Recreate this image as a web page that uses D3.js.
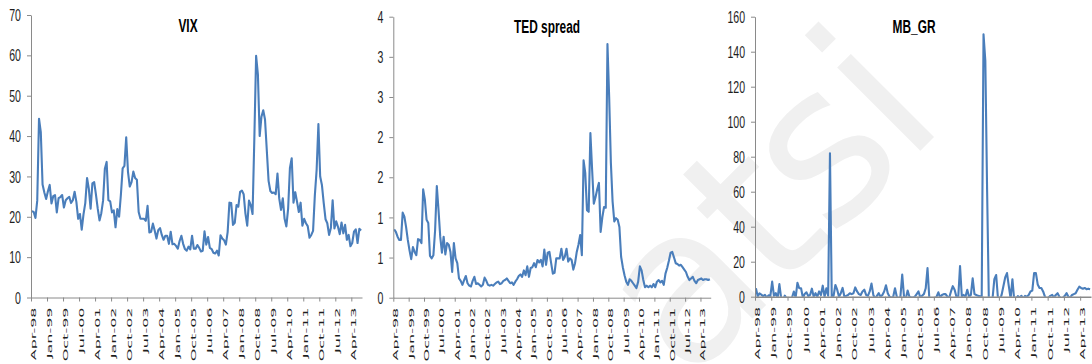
<!DOCTYPE html>
<html>
<head>
<meta charset="utf-8">
<script src="https://cdn.jsdelivr.net/npm/d3@7"></script>
<style>
  html, body { margin: 0; padding: 0; background: #fff; }
  svg { display: block; }
</style>
</head>
<body>
<svg id="chart" width="1092" height="364"></svg>
<script>
// Monthly observations, Apr-98 .. Sep-13 (186 months)
const xTickLabels = ["Apr-98","Jan-99","Oct-99","Jul-00","Apr-01","Jan-02","Oct-02","Jul-03",
  "Apr-04","Jan-05","Oct-05","Jul-06","Apr-07","Jan-08","Oct-08","Jul-09","Apr-10","Jan-11",
  "Oct-11","Jul-12","Apr-13"];

const vix = [
  21.4, 21.2, 19.7, 24.0, 44.3, 41.0, 28.0, 26.0, 24.4,
  26.3, 27.9, 23.3, 25.1, 25.4, 21.1, 24.6, 24.9, 25.4,
  22.3, 24.1, 24.6, 24.95, 23.4, 24.1, 26.2, 23.7, 19.5,
  20.7, 16.8, 20.6, 23.4, 29.6, 26.9, 22.0, 28.3, 28.6,
  25.5, 22.0, 19.1, 20.9, 24.0, 31.9, 33.6, 24.1, 23.8,
  21.1, 21.6, 17.4, 21.9, 20.0, 25.4, 32.0, 32.6, 39.7,
  31.1, 27.5, 28.6, 31.2, 29.6, 29.2, 21.2, 19.5, 19.5,
  19.5, 19.0, 22.7, 16.1, 16.3, 18.3, 16.6, 14.6, 16.7,
  17.2, 15.5, 14.3, 15.3, 15.3, 13.3, 16.3, 13.2, 13.3,
  12.8, 12.1, 14.0, 15.3, 13.3, 12.0, 11.6, 12.6, 11.9,
  15.3, 12.1, 12.1, 13.0, 12.3, 11.4, 11.6, 16.4, 13.1,
  15.0, 12.3, 12.0, 11.1, 10.9, 11.6, 10.4, 15.4, 14.6,
  14.2, 13.1, 16.2, 23.5, 23.4, 18.0, 18.5, 22.9, 22.5,
  26.2, 26.5, 25.6, 20.8, 17.8, 24.0, 22.9, 20.7, 39.4,
  59.9, 55.3, 40.0, 44.8, 46.4, 44.1, 36.5, 28.9, 26.4,
  25.9, 26.0, 25.6, 30.7, 24.5, 21.7, 24.6, 19.5, 17.6,
  22.1, 32.1, 34.5, 23.5, 26.1, 23.7, 21.2, 23.5, 17.8,
  19.5, 18.4, 17.7, 14.8, 15.5, 16.5, 25.3, 31.6, 43.0,
  30.0, 27.8, 23.4, 19.4, 18.4, 15.5, 17.2, 24.1, 17.1,
  18.9, 17.5, 15.7, 18.6, 15.9, 18.0, 14.3, 15.5, 12.7,
  13.5, 16.3, 16.9, 13.5, 17.0, 16.6
];

const ted = [
  0.85, 0.82, 0.76, 0.72, 0.72, 1.06, 1.01, 0.88, 0.72, 0.59,
  0.48, 0.63, 0.57, 0.53, 0.73, 0.72, 0.68, 1.35, 1.22, 0.97,
  0.93, 0.52, 0.49, 0.53, 0.84, 1.39, 1.09, 0.76, 0.56, 0.76,
  0.54, 0.68, 0.66, 0.57, 0.32, 0.68, 0.49, 0.43, 0.24, 0.21,
  0.16, 0.22, 0.27, 0.18, 0.15, 0.14, 0.21, 0.26, 0.17, 0.18,
  0.16, 0.14, 0.16, 0.25, 0.21, 0.16, 0.15, 0.16, 0.15, 0.17,
  0.19, 0.20, 0.17, 0.18, 0.21, 0.22, 0.24, 0.21, 0.18, 0.19,
  0.16, 0.20, 0.23, 0.27, 0.29, 0.26, 0.34, 0.28, 0.39, 0.26,
  0.37, 0.38, 0.43, 0.38, 0.47, 0.44, 0.47, 0.39, 0.60, 0.41,
  0.56, 0.57, 0.43, 0.30, 0.31, 0.49, 0.49, 0.49, 0.61, 0.47,
  0.51, 0.61, 0.45, 0.49, 0.47, 0.35, 0.43, 0.57, 0.66, 0.78,
  0.53, 1.71, 1.55, 1.09, 1.07, 2.05, 1.60, 1.17, 1.25, 1.35,
  1.43, 0.82, 1.00, 1.13, 1.12, 3.16, 2.50, 1.68, 1.20, 0.95,
  0.99, 0.97, 0.88, 0.51, 0.38, 0.28, 0.20, 0.16, 0.23, 0.21,
  0.18, 0.15, 0.12, 0.20, 0.39, 0.34, 0.22, 0.13, 0.15, 0.13,
  0.15, 0.13, 0.17, 0.13, 0.20, 0.22, 0.19, 0.21, 0.16, 0.30,
  0.37, 0.46, 0.56, 0.57, 0.50, 0.43, 0.42, 0.40, 0.41, 0.38,
  0.35, 0.32, 0.26, 0.22, 0.24, 0.26, 0.21, 0.18, 0.22, 0.23,
  0.24, 0.22, 0.23, 0.23, 0.22, 0.23
];

const mbGr = [
  4.8, 0.2, 1.9, 1.2, 0.3, 1.0, -0.5, 0.8, 0.3, 8.6,
  0.5, 2.0, -1, 7.2, -1, -2, 0.6, -1, -2, -1.5,
  -0.5, 3, -0.5, 8, 4.8, 4.8, -0.5, 1.5, 2.5, 0.3,
  1, 4.6, 0, 2, 0, 3, 1, 6.3, 0, 4.8,
  0.5, 82, -1, 0.5, 6.7, 4, 0, 2, 5, 0,
  0.5, 1, 2, 1.5, 2, 5.3, 3, 1.5, 1, 3,
  4, 1, 0.5, 3, 7.5, 1, -1, 0.5, 2, 0,
  1, 3, 6.5, 2, 0, -0.5, 0, 4.8, 0, -1,
  0, 12.6, 0, -1, 3.5, 0, -0.5, -0.5, 0, 1.5,
  3, -0.5, 0.5, 1.5, 4.8, 16.4, -1, -2, -1, -1,
  0, 2.5, -0.5, 1, 1.5, 1.5, 0, -0.5, 3, 6,
  4, 0, -0.5, 17.5, 0, 1, 0, 4, 0, 1,
  10.5, 1.5, 1, 0.5, 0.3, 0, 150, 135, 60, -5,
  -3, -1, 10, 12.4, -1, -2, 1, 6, 11, 13.5,
  6, -1, 10, -2, -1, 0.3, -0.5, 0.5, -1, 0.5,
  0, 1, 3, 3.5, 13.5, 13.5, 7, 5, 5, 3,
  0, -1, -0.5, 0.5, 1, -0.5, 1, 2, 0, -1,
  -0.5, 0.5, 2, 0, -0.5, 1, 1.5, 2, 4, 5.7,
  5, 4.6, 5, 4.3, 4.6, 4.3
];

const vixTicks = [0, 10, 20, 30, 40, 50, 60, 70];
const vixTickLabels = ["0", "10", "20", "30", "40", "50", "60", "70"];
const tedTicks = [0, 0.5, 1, 1.5, 2, 2.5, 3, 3.5];
const tedTickLabels = ["0", "1", "1", "2", "2", "3", "3", "4"];
const mbTicks = [0, 20, 40, 60, 80, 100, 120, 140, 160];
const mbTickLabels = ["0", "20", "40", "60", "80", "100", "120", "140", "160"];

const AXIS = "#8a8a8a";
const LINE = "#4a7ebb";
const TEXT = "#1e1e1e";

const svg = d3.select("#chart");

// faint background watermark
svg.append("text")
  .attr("transform", "translate(944,127) rotate(-45)")
  .attr("text-anchor", "end")
  .attr("font-family", "DejaVu Sans")
  .attr("font-size", 215)
  .attr("letter-spacing", -6)
  .attr("fill", "#f0f0f0")
  .text("atsi");

const panels = [
  { id: "vix", title: "VIX", values: vix, ticks: vixTicks, labels: vixTickLabels,
    box: { left: 31, right: 362, top: 15, bottom: 297.5 }, titleX: 188, titleY: 31.7 },
  { id: "ted", title: "TED spread", values: ted, ticks: tedTicks, labels: tedTickLabels,
    box: { left: 393.3, right: 710.7, top: 16.7, bottom: 297.7 }, titleX: 547, titleY: 33.2 },
  { id: "mb", title: "MB_GR", values: mbGr, ticks: mbTicks, labels: mbTickLabels,
    box: { left: 755, right: 1091, top: 16.7, bottom: 296.7 }, titleX: 914, titleY: 33.2 }
];

panels.forEach(p => {
  const n = p.values.length;
  const b = p.box;
  const x = d3.scaleLinear().domain([0, n]).range([b.left, b.right]);
  const y = d3.scaleLinear().domain([0, p.ticks[p.ticks.length - 1]]).range([b.bottom, b.top]);
  const g = svg.append("g");

  // title
  g.append("text")
    .attr("transform", `translate(${p.titleX},${p.titleY}) scale(0.66,1)`)
    .attr("text-anchor", "middle")
    .attr("font-family", "Liberation Sans, Arial, sans-serif")
    .attr("font-weight", "bold")
    .attr("font-size", 18)
    .attr("fill", "#000")
    .text(p.title);

  // series line, clipped to the plot rectangle
  const clipId = "clip-" + p.id;
  svg.append("defs").append("clipPath").attr("id", clipId)
    .append("rect")
    .attr("x", b.left).attr("y", b.top - 10)
    .attr("width", b.right - b.left + 2).attr("height", b.bottom - b.top + 10);

  const line = d3.line()
    .x((d, i) => x(i + 0.5))
    .y(d => y(d))
    .curve(d3.curveLinear);

  g.append("path")
    .datum(p.values)
    .attr("clip-path", `url(#${clipId})`)
    .attr("fill", "none")
    .attr("stroke", LINE)
    .attr("stroke-width", 2.1)
    .attr("stroke-linejoin", "round")
    .attr("d", line);

  // y axis
  const yAxis = d3.axisLeft(y)
    .tickValues(p.ticks)
    .tickFormat((d, i) => p.labels[i])
    .tickSize(4)
    .tickSizeOuter(0);
  const gy = g.append("g").attr("transform", `translate(${b.left},0)`).call(yAxis);
  gy.select(".domain").attr("stroke", AXIS);
  gy.selectAll(".tick line").attr("stroke", AXIS);
  gy.selectAll(".tick text")
    .attr("x", null).attr("dy", null)
    .attr("transform", "translate(-10,5.6) scale(0.66,1)")
    .attr("font-family", "Liberation Sans, Arial, sans-serif")
    .attr("font-size", 16)
    .attr("fill", TEXT);

  // x axis: a tick and a label every nine months
  const tickIdx = xTickLabels.map((d, k) => k * 9);
  const xAxis = d3.axisBottom(x)
    .tickValues(tickIdx)
    .tickFormat((d, k) => xTickLabels[k])
    .tickSize(4)
    .tickSizeOuter(0);
  const gx = g.append("g").attr("transform", `translate(0,${b.bottom})`).call(xAxis);
  gx.select(".domain").attr("stroke", AXIS).attr("stroke-width", p.id === "mb" ? 1.5 : 1);
  gx.selectAll(".tick line").attr("stroke", AXIS);
  const off = x(1) - x(0);
  gx.selectAll(".tick text")
    .attr("y", null).attr("dy", "0.35em")
    .attr("text-anchor", "end")
    .attr("transform", `translate(${off * 0.5 + 1},10) scale(0.45,1) rotate(-90)`)
    .attr("font-family", "DejaVu Sans, Verdana, sans-serif")
    .attr("font-size", 16)
    .attr("fill", TEXT);
});
</script>
</body>
</html>
